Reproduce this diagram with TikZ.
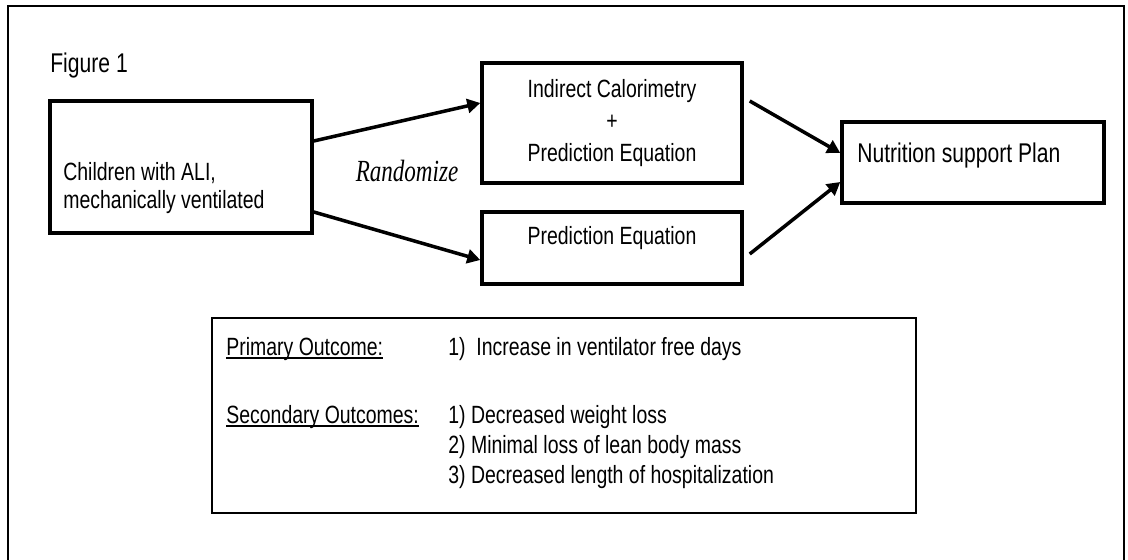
\documentclass[tikz,border=0pt]{standalone}
\usepackage{fontspec}
\setmainfont[FakeStretch=0.78]{Liberation Sans}
\newfontfamily\randfont[FakeStretch=0.75]{Liberation Serif}
\usetikzlibrary{arrows.meta}
\newcommand\ulbar[1]{\leavevmode\setbox0\hbox{#1}\rlap{\rule[-2.4pt]{\wd0}{1pt}}\box0}
\begin{document}
\begin{tikzpicture}[x=0.02cm,y=-0.02cm,
 box/.style={draw,line width=2pt,inner sep=0pt},
 lbl/.style={inner sep=0pt,font=\fontsize{14.2}{15.9}\selectfont},
 arr/.style={line width=2pt,-{Triangle[length=0.26cm,width=0.28cm]}}]
\useasboundingbox(0,0)rectangle(1128,560);
\clip(0,0)rectangle(1128,560);
\draw[line width=1.3pt](8,6)rectangle(1124,600);
\node[lbl,anchor=base west,font=\fontsize{15.4}{18}\selectfont](fig)at(50,73){Figure 1};
\node[box,minimum width=5.24cm,minimum height=2.64cm](kids)at(181,167){};
\node[lbl,anchor=west,align=left](kidstxt)at(63,188){Children with ALI,\\mechanically ventilated};
\node[box,minimum width=5.2cm,minimum height=2.4cm,align=center,font=\fontsize{14.2}{18.2}\selectfont](ic)at(612,123){Indirect Calorimetry\\+\\Prediction Equation};
\node[box,minimum width=5.2cm,minimum height=1.44cm](pe)at(612,248){};
\node[lbl,anchor=base](petxt)at(612,245){Prediction Equation};
\node[box,minimum width=5.24cm,minimum height=1.62cm](nsp)at(973,162.5){};
\node[lbl,anchor=base west,font=\fontsize{15.4}{18}\selectfont](nsptxt)at(857,163){Nutrition support Plan};
\node[inner sep=0pt,anchor=base,font=\fontsize{17.5}{20}\selectfont\randfont\itshape](rand)at(407,182){Randomize};
\draw[arr]([yshift=0.52cm]kids.east)--([yshift=0.4cm]ic.west);
\draw[arr]([yshift=-0.9cm]kids.east)--([yshift=-0.24cm]pe.west);
\draw[arr]([shift={(0.12cm,0.44cm)}]ic.east)--([yshift=0.19cm]nsp.west);
\draw[arr]([shift={(0.12cm,-0.12cm)}]pe.east)--([yshift=-0.39cm]nsp.west);
% outcomes
\node[box,line width=1.6pt,minimum width=14.08cm,minimum height=3.9cm](out)at(564,415.5){};
\node[lbl,anchor=base west](prim)at(226,355){\ulbar{Primary Outcome:}};
\node[lbl,anchor=base west](prim1)at(448,355){1)\ \ Increase in ventilator free days};
\node[lbl,anchor=base west](sec)at(226,423){\ulbar{Secondary Outcomes:}};
\node[lbl,anchor=base west](sec1)at(448,423){1) Decreased weight loss};
\node[lbl,anchor=base west](sec2)at(448,453){2) Minimal loss of lean body mass};
\node[lbl,anchor=base west](sec3)at(448,483){3) Decreased length of hospitalization};
\end{tikzpicture}
\end{document}
